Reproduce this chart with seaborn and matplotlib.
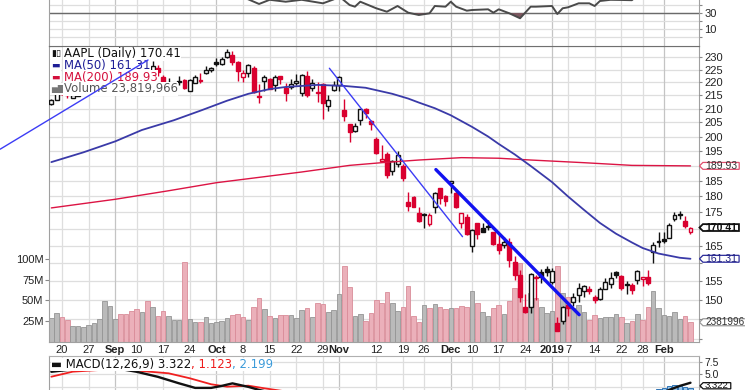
import numpy as np
import matplotlib
matplotlib.use("Agg")
import matplotlib.pyplot as plt
import matplotlib.transforms as mtransforms
from matplotlib.path import Path
from matplotlib.ticker import FixedLocator, FixedFormatter, NullLocator
from matplotlib.offsetbox import TextArea, HPacker, AnchoredOffsetbox
import seaborn as sns

# ---------------- data ----------------
dates = [
    "2018-08-16", "2018-08-17", "2018-08-20", "2018-08-21", "2018-08-22", "2018-08-23", "2018-08-24",
    "2018-08-27", "2018-08-28", "2018-08-29", "2018-08-30", "2018-08-31",
    "2018-09-04", "2018-09-05", "2018-09-06", "2018-09-07", "2018-09-10", "2018-09-11", "2018-09-12",
    "2018-09-13", "2018-09-14", "2018-09-17", "2018-09-18", "2018-09-19", "2018-09-20", "2018-09-21",
    "2018-09-24", "2018-09-25", "2018-09-26", "2018-09-27", "2018-09-28",
    "2018-10-01", "2018-10-02", "2018-10-03", "2018-10-04", "2018-10-05", "2018-10-08", "2018-10-09",
    "2018-10-10", "2018-10-11", "2018-10-12", "2018-10-15", "2018-10-16", "2018-10-17", "2018-10-18",
    "2018-10-19", "2018-10-22", "2018-10-23", "2018-10-24", "2018-10-25", "2018-10-26", "2018-10-29",
    "2018-10-30", "2018-10-31",
    "2018-11-01", "2018-11-02", "2018-11-05", "2018-11-06", "2018-11-07", "2018-11-08", "2018-11-09",
    "2018-11-12", "2018-11-13", "2018-11-14", "2018-11-15", "2018-11-16", "2018-11-19", "2018-11-20",
    "2018-11-21", "2018-11-23", "2018-11-26", "2018-11-27", "2018-11-28", "2018-11-29", "2018-11-30",
    "2018-12-03", "2018-12-04", "2018-12-06", "2018-12-07", "2018-12-10", "2018-12-11", "2018-12-12",
    "2018-12-13", "2018-12-14", "2018-12-17", "2018-12-18", "2018-12-19", "2018-12-20", "2018-12-21",
    "2018-12-24", "2018-12-26", "2018-12-27", "2018-12-28", "2018-12-31",
    "2019-01-02", "2019-01-03", "2019-01-04", "2019-01-07", "2019-01-08", "2019-01-09", "2019-01-10",
    "2019-01-11", "2019-01-14", "2019-01-15", "2019-01-16", "2019-01-17", "2019-01-18", "2019-01-22",
    "2019-01-23", "2019-01-24", "2019-01-25", "2019-01-28", "2019-01-29", "2019-01-30", "2019-01-31",
    "2019-02-01", "2019-02-04", "2019-02-05", "2019-02-06", "2019-02-07", "2019-02-08",
]

opens = [
    211.75, 213.44, 218.10, 216.80, 214.10, 214.65, 216.60, 217.15, 219.01, 220.15, 223.25, 226.51,
    228.41, 228.99, 226.23, 221.85, 220.95, 218.01, 224.94, 223.52, 225.75, 222.15, 217.79, 218.50,
    220.24, 220.78, 216.82, 219.75, 221.00, 223.82, 224.79,
    227.95, 227.25, 230.05, 230.78, 227.96, 222.21, 223.64, 225.46, 214.52, 220.42, 221.16, 218.93,
    222.30, 217.86, 218.06, 219.79, 215.83, 222.60, 217.71, 215.90, 219.19, 211.15, 216.88,
    219.05, 209.55, 204.30, 201.92, 205.97, 209.98, 205.55, 199.00, 191.63, 193.90, 188.39, 190.50,
    190.00, 178.37, 179.73, 174.94, 174.24, 171.51, 176.73, 182.66, 180.29,
    184.46, 180.95, 171.76, 173.49, 165.00, 171.66, 170.40, 170.49, 169.00, 165.45, 165.38, 166.00,
    160.40, 156.86, 148.15, 148.30, 155.84, 157.50, 158.53,
    154.89, 143.98, 144.53, 148.70, 149.56, 151.29, 152.50, 152.88, 150.85, 150.27, 153.08, 154.20,
    157.50, 156.41, 154.15, 154.11, 155.48, 155.79, 156.25, 163.25, 166.11,
    166.96, 167.41, 172.86, 174.65, 172.40, 168.99,
]
highs = [
    213.81, 217.95, 219.18, 217.19, 216.36, 217.05, 216.90, 218.74, 220.54, 223.49, 228.26, 228.87,
    229.18, 229.67, 227.35, 225.37, 221.85, 224.30, 225.00, 228.35, 226.84, 222.95, 221.85, 219.62,
    222.28, 221.36, 221.26, 222.82, 223.75, 226.44, 225.84,
    229.42, 230.00, 233.47, 232.35, 228.41, 224.80, 227.27, 226.35, 219.50, 222.88, 221.83, 222.99,
    222.64, 219.74, 221.26, 223.36, 223.25, 224.23, 221.38, 220.19, 219.69, 215.18, 220.45,
    222.36, 213.65, 204.39, 204.72, 210.06, 210.12, 206.01, 199.85, 197.18, 194.48, 191.97, 194.97,
    190.70, 181.47, 180.27, 176.60, 174.95, 174.77, 181.29, 182.80, 180.33,
    184.94, 182.39, 174.78, 174.49, 170.09, 171.79, 171.92, 172.57, 169.08, 168.35, 167.53, 167.45,
    162.11, 158.16, 151.55, 157.23, 156.77, 158.52, 159.36,
    158.85, 145.72, 148.55, 148.83, 151.82, 154.53, 153.97, 153.70, 151.27, 153.39, 155.88, 157.66,
    157.88, 156.73, 155.14, 154.48, 158.13, 156.33, 158.13, 166.15, 169.00,
    168.98, 171.66, 175.08, 175.57, 173.94, 170.66,
]
lows = [
    211.47, 213.16, 215.11, 214.03, 213.84, 214.60, 215.11, 216.33, 218.92, 219.41, 222.40, 226.00,
    226.63, 225.10, 221.30, 220.71, 216.47, 216.56, 219.84, 222.57, 222.52, 217.27, 217.12, 215.30,
    219.15, 217.29, 216.63, 219.70, 219.76, 223.30, 224.02,
    226.35, 226.63, 229.78, 226.73, 220.58, 220.20, 222.25, 216.05, 212.32, 216.84, 217.27, 216.76,
    219.34, 213.00, 217.43, 218.94, 214.70, 214.54, 216.75, 212.67, 206.09, 209.27, 216.62,
    216.81, 205.43, 198.17, 201.69, 204.13, 206.75, 202.25, 193.79, 191.45, 185.93, 186.90, 189.46,
    184.99, 175.51, 176.55, 172.10, 170.26, 170.88, 174.93, 177.70, 177.03,
    181.21, 176.27, 170.42, 168.30, 163.33, 167.00, 169.02, 169.55, 165.28, 162.73, 164.39, 159.09,
    155.30, 149.63, 146.59, 146.72, 150.07, 154.55, 156.48,
    154.23, 142.00, 143.80, 145.90, 148.52, 149.63, 150.86, 151.51, 149.22, 150.05, 153.00, 153.26,
    155.98, 152.62, 151.70, 151.74, 154.32, 153.66, 154.11, 160.23, 164.56,
    165.93, 167.28, 172.35, 172.85, 170.34, 168.42,
]
closes = [
    213.32, 217.58, 215.46, 215.04, 215.05, 215.49, 216.16, 217.94, 219.70, 222.98, 225.03, 227.63,
    228.36, 226.87, 223.10, 221.30, 218.33, 223.85, 221.07, 226.41, 223.84, 217.88, 218.24, 218.37,
    220.03, 217.66, 220.79, 222.19, 220.42, 224.95, 225.74,
    227.26, 229.28, 232.07, 227.99, 224.29, 223.77, 226.87, 216.36, 214.45, 222.11, 217.36, 222.15,
    221.19, 216.02, 219.31, 220.65, 222.73, 215.09, 219.80, 216.30, 212.24, 213.30, 218.86,
    222.22, 207.48, 201.59, 203.77, 209.95, 208.49, 204.47, 194.17, 192.23, 186.80, 191.41, 193.53,
    185.86, 176.98, 176.78, 172.29, 174.62, 174.24, 180.94, 179.55, 178.58,
    184.82, 176.69, 174.72, 168.49, 169.60, 168.63, 169.10, 170.95, 165.48, 163.94, 166.07, 160.89,
    156.83, 150.73, 146.83, 157.17, 156.15, 156.23, 157.74,
    157.92, 142.19, 148.26, 147.93, 150.75, 153.31, 153.80, 152.29, 150.00, 153.07, 154.94, 155.86,
    156.82, 153.30, 153.92, 152.70, 157.76, 156.30, 154.68, 165.25, 166.44,
    166.52, 171.25, 174.18, 174.24, 170.94, 170.41,
]
prior_close = 210.24
volumes_m = [
    28.5, 35.4, 30.3, 26.2, 19.0, 18.9, 18.5, 20.5, 22.8, 27.3, 48.8, 43.3,
    27.4, 33.3, 34.3, 37.6, 39.5, 35.7, 49.3, 41.7, 31.9, 37.2, 31.6, 27.1, 26.6, 96.2, 27.7, 24.6,
    24.0, 30.2, 22.9,
    23.6, 24.8, 28.7, 32.0, 33.6, 29.7, 26.9, 42.0, 53.1, 40.3, 30.8, 28.8, 32.6, 32.6, 33.1, 28.8,
    38.7, 40.9, 29.9, 47.3, 45.9, 36.7, 38.4,
    58.3, 91.3, 66.2, 31.9, 33.4, 25.4, 34.4, 51.1, 46.9, 60.8, 46.5, 36.9, 41.9, 67.8, 31.1, 23.6,
    45.0, 41.4, 46.1, 41.8, 39.5,
    40.8, 41.3, 43.1, 42.3, 62.0, 47.3, 35.6, 31.9, 40.7, 44.3, 33.8, 49.0, 64.8, 95.7, 37.2, 58.6,
    53.1, 42.3, 35.0,
    37.0, 91.3, 58.6, 54.8, 41.0, 45.1, 35.8, 27.0, 32.4, 28.7, 30.6, 29.8, 33.8, 30.4, 23.1, 25.4,
    33.5, 26.2, 41.6, 61.1, 40.7,
    32.7, 31.5, 36.1, 28.2, 31.7, 23.8,
]

# moving averages (session number -> value)
ma50_session = [0, 6, 12, 17, 23, 28, 33, 37, 41, 44, 50, 55, 59, 64, 67, 69, 72, 75, 79, 82, 84, 87,
                90, 94, 97, 100, 103, 106, 109, 111, 114, 118, 120]
ma50_values = [191.2, 194.5, 198.3, 202.3, 205.8, 209.3, 213.0, 215.6, 217.4, 218.2, 219.0, 218.6,
               217.9, 215.6, 213.8, 212.3, 210.2, 207.6, 203.4, 200.0, 197.4, 193.8, 189.9, 184.6,
               180.0, 175.8, 171.8, 168.6, 166.0, 164.4, 162.8, 161.6, 161.31]
ma200_session = [0, 12, 22, 31, 37, 47, 56, 62, 69, 77, 84, 90, 100, 109, 120]
ma200_values = [176.4, 179.1, 181.8, 184.4, 185.7, 187.9, 190.1, 191.0, 191.9, 192.7, 192.5, 191.9,
                191.0, 190.1, 189.93]

# RSI (top panel, mostly off the top of the crop)
rsi_session = [35, 37, 39, 41, 44, 47, 51, 53, 54, 56, 57, 58, 61, 63, 65, 67, 69, 71, 72, 74, 75, 76,
               78, 79, 82, 83, 84, 86, 88, 90, 91, 94, 95, 96, 97, 99, 101, 102, 103, 105, 107, 109, 110, 113]
rsi_values = [53, 47, 41.3, 46.5, 44.1, 46.5, 42.1, 47, 51, 40, 37.9, 44.1, 35.9, 31.6, 38.75, 30.4,
              27.5, 29.6, 38.75, 37.9, 44.1, 37.9, 32.9, 33.75, 34.6, 30.4, 34.6, 29.6, 23.4, 37.9,
              37.9, 38.75, 28.75, 35.9, 37.1, 42.1, 42.1, 38.75, 45, 46.5, 46.3, 46, 52, 62]

# MACD(12,26,9)
macd_session = [0, 3, 7, 11, 16, 20, 24, 27, 30, 32, 34, 37, 39, 42, 47, 52, 57, 62, 67, 72, 77, 82,
                87, 92, 97, 102, 107, 112, 114, 116, 117, 118, 119, 120]
macd_values = [5.5, 5.85, 6.1, 6.4, 5.5, 4.5, 3.2, 2.3, 2.3, 2.7, 3.2, 2.5, 1.9, 1.2, 0.6, -0.3, -2.5,
               -5.5, -8.5, -9.5, -9.5, -9.3, -10.0, -9.2, -8.5, -6.0, -3.5, -1.0, 0.9, 1.9, 2.3, 2.7,
               3.0, 3.322]
signal_session = [0, 4, 9, 13, 22, 26, 30, 33, 37, 40, 44, 50, 55, 60, 65, 70, 75, 80, 85, 90, 95,
                  100, 105, 110, 115, 120]
signal_values = [4.52, 5.52, 5.85, 6.0, 5.2, 4.21, 3.02, 2.54, 2.74, 2.22, 1.6, 0.8, 0.0, -2.0, -4.5,
                 -6.5, -8.0, -8.7, -9.0, -9.3, -9.0, -8.0, -6.0, -3.5, -1.0, 1.123]
hist_session = [114, 115, 116, 117, 118, 119, 120]
hist_values = [2.0, 2.3, 2.6, 2.8, 2.7, 2.5, 2.199]

# hand-drawn trend lines (session, price)
trend1_session, trend1_price = [-9.6, 18.15], [195.6, 228.8]
trend2_session, trend2_price = [52.2, 77.2], [225.5, 167.7]
trend3_session, trend3_price = [72.2, 99.1], [188.7, 146.2]

tick_dates = ["2018-08-20", "2018-08-27", "2018-09-04", "2018-09-10", "2018-09-17", "2018-09-24",
              "2018-10-01", "2018-10-08", "2018-10-15", "2018-10-22", "2018-10-29", "2018-11-01",
              "2018-11-12", "2018-11-19", "2018-11-26", "2018-12-03", "2018-12-10", "2018-12-17",
              "2018-12-24", "2019-01-02", "2019-01-07", "2019-01-14", "2019-01-22", "2019-01-28",
              "2019-02-01"]
tick_labels = ["20", "27", "Sep", "10", "17", "24", "Oct", "8", "15", "22", "29", "Nov", "12", "19",
               "26", "Dec", "10", "17", "24", "2019", "7", "14", "22", "28", "Feb"]
month_labels = {"Sep", "Oct", "Nov", "Dec", "2019", "Feb"}

price_ticks = [140, 145, 150, 155, 160, 165, 170, 175, 180, 185, 190, 195, 200, 205, 210, 215, 220, 225, 230]
price_hidden = {140, 145, 160, 170, 190}

# ---------------- figure ----------------
sns.set_theme(style="white")
plt.rcParams["font.family"] = ["DejaVu Sans"]
AXFONT = ["Liberation Sans", "DejaVu Sans"]
LEGFS = 8.4

W, H = 745, 390
fig = plt.figure(figsize=(W / 100, H / 100), dpi=100)
fig.patch.set_facecolor("white")


def rect(x0, y0, x1, y1):
    return [x0 / W, 1 - y1 / H, (x1 - x0) / W, (y1 - y0) / H]


ax_vol = fig.add_axes(rect(49, 46, 699, 342))
ax_px = ax_vol.twinx()
ax_rsi = fig.add_axes(rect(49, -35, 699, 46))
ax_macd = fig.add_axes(rect(49, 356, 699, 420))

sess = {d: i for i, d in enumerate(dates)}
x = np.arange(len(dates))
o, hi, lo, c = (np.array(a, dtype=float) for a in (opens, highs, lows, closes))
prev = np.concatenate([[prior_close], c[:-1]])
down = c < prev
hollow = c > o
XLIM = (-0.44, 121.6)
tick_x = [sess[d] for d in tick_dates]

GRID = "#dedede"
GRID_M = "#c4c4c4"


def vgrid(ax):
    ax.set_xlim(*XLIM)
    ax.set_xticks(tick_x)
    ax.set_xticklabels(tick_labels)
    ax.grid(True, axis="x", color=GRID, lw=0.9)
    for t, lab in zip(ax.xaxis.get_major_ticks(), tick_labels):
        if lab in month_labels:
            t.gridline.set_color(GRID_M)
    ax.tick_params(axis="x", length=0)


def style_ylabels(ax):
    for t in ax.get_yticklabels():
        t.set_family(AXFONT)


for ax in (ax_vol, ax_rsi, ax_macd):
    for s in ax.spines.values():
        s.set_color("#a0a0a0")
        s.set_linewidth(0.8)
for s in ax_px.spines.values():
    s.set_visible(False)

# ---- volume (bottom layer) ----
vgrid(ax_vol)
vol = np.array(volumes_m) * 1e6
vfc = np.where(down, "#ebb0ba", "#bababa")
vec = np.where(down, "#d98c99", "#959595")
ax_vol.bar(x, vol, width=0.86, color=vfc, edgecolor=vec, linewidth=0.6, zorder=2)
ax_vol.set_ylim(0, 356.6e6)
ax_vol.set_yticks([25e6, 50e6, 75e6, 100e6])
ax_vol.set_yticklabels(["25M", "50M", "75M", "100M"])
ax_vol.tick_params(axis="y", left=True, length=3, width=0.8, color="#888888", pad=1,
                   labelsize=8, labelcolor="#222222")
ax_vol.tick_params(axis="x", labelsize=8, labelcolor="#222222", pad=2)
for t, lab in zip(ax_vol.get_xticklabels(), tick_labels):
    t.set_family(AXFONT)
    if lab in month_labels:
        t.set_fontweight("bold")
style_ylabels(ax_vol)
ax_vol.spines["top"].set_color("#707070")

# horizontal price grid drawn beneath the volume bars, using the price axis scale
blend = mtransforms.blended_transform_factory(ax_vol.transAxes, ax_px.transData)
for p in price_ticks:
    ax_vol.plot([0, 1], [p, p], transform=blend, color=GRID, lw=0.9, zorder=0.5)

# ---- price panel ----
ax_px.set_yscale("log")
ax_px.set_ylim(139.35, 234.5)
ax_px.set_xlim(*XLIM)
ax_px.yaxis.set_major_locator(FixedLocator(price_ticks))
ax_px.yaxis.set_major_formatter(FixedFormatter(["" if t in price_hidden else str(t) for t in price_ticks]))
ax_px.yaxis.set_minor_locator(NullLocator())
ax_px.tick_params(axis="y", right=True, length=2, width=0.8, color="#888888", pad=2,
                  labelsize=8, labelcolor="#222222")
style_ylabels(ax_px)
ax_px.grid(False)

col = np.where(down, "#d9002f", "#111111")
ax_px.vlines(x, lo, hi, colors=col, lw=1.0, zorder=3)
body_lo = np.minimum(o, c)
body_h = np.maximum(np.abs(c - o), 0.3)
face = np.where(hollow, "white", col)
ax_px.bar(x, body_h, bottom=body_lo, width=0.74, color=face, edgecolor=col, linewidth=1.0, zorder=4)

sns.lineplot(x=ma200_session, y=ma200_values, ax=ax_px, color="#dc1444", lw=1.0,
             estimator=None, sort=False, zorder=5)
sns.lineplot(x=ma50_session, y=ma50_values, ax=ax_px, color="#3a3aa8", lw=1.3,
             estimator=None, sort=False, zorder=5)
ax_px.set_xlabel("")
ax_px.set_ylabel("")
ax_vol.set_ylabel("")

ax_px.plot(trend1_session, trend1_price, color="#3c3cf5", lw=1.0, zorder=8, clip_on=False)
ax_px.plot(trend2_session, trend2_price, color="#3c3cf5", lw=1.0, zorder=8)
ax_px.plot(trend3_session, trend3_price, color="#1212f0", lw=2.4, zorder=8, solid_capstyle="round")


def fx(px):
    return (px - 49) / 650


def fy(py):
    return (342 - py) / 296


legend_rows = [
    ("\u25AE\u25AF", "AAPL (Daily) 170.41", "#111111", "#111111", 53.5),
    ("\u25AC", "MA(50) 161.31", "#1e1e96", "#1e1e96", 65.5),
    ("\u25AC", "MA(200) 189.93", "#d4103c", "#d4103c", 77.3),
    ("\u2585\u2587", "Volume 23,819,966", "#555555", "#777777", 88.8),
]
for icon, txt, color, icolor, ypix in legend_rows:
    ax_px.text(fx(51), fy(ypix), icon, transform=ax_px.transAxes, color=icolor,
               fontsize=6.5, va="center", ha="left", zorder=7,
               bbox=dict(boxstyle="square,pad=0.15", fc="white", ec="none"))
    ax_px.text(fx(63.5), fy(ypix), txt, transform=ax_px.transAxes, color=color,
               fontsize=LEGFS, va="center", ha="left", zorder=7,
               bbox=dict(boxstyle="square,pad=0.05", fc="white", ec="none"))


# ---- value tags ----
def tag_box(x0, y0, width, height, mutation_size):
    px_ = 0.2 * mutation_size
    py_ = -0.15 * mutation_size
    x0 = x0 - px_
    x1 = x0 + width + 2 * px_
    y0 = y0 - py_
    y1 = y0 + height + 2 * py_
    tip = 0.5 * (y1 - y0)
    ym = 0.5 * (y0 + y1)
    return Path([(x0, y0), (x1, y0), (x1, y1), (x0, y1), (x0 - tip, ym), (x0, y0)], closed=True)


def tag(ax, value, text, ec, tc, bold=False, lw=0.9, fs=7.5, dy=0):
    ax.annotate(text, xy=(1.0, value), xycoords=("axes fraction", "data"),
                xytext=(6, dy), textcoords="offset pixels", va="center", ha="left",
                fontsize=fs, family=AXFONT, color=tc, fontweight="bold" if bold else "normal",
                bbox=dict(boxstyle=tag_box, fc="white", ec=ec, lw=lw),
                annotation_clip=False, zorder=9)


tag(ax_px, 189.93, "189.93", "#e0506e", "#333333")
tag(ax_px, 170.41, "170.41", "#111111", "#111111", bold=True, lw=1.3)
tag(ax_px, 161.31, "161.31", "#2a2a9a", "#1e1e80")
tag(ax_vol, volumes_m[-1] * 1e6, "2381996", "#9a9a9a", "#333333", fs=7.2)

# ---- RSI panel ----
vgrid(ax_rsi)
ax_rsi.tick_params(axis="x", labelbottom=False)
ax_rsi.set_ylim(-11.25, 90)
rv = np.array(rsi_values, dtype=float)
ax_rsi.fill_between(rsi_session, rv, 30, where=rv < 30, interpolate=True, color="#7d5860", lw=0, zorder=2)
sns.lineplot(x=rsi_session, y=rsi_values, ax=ax_rsi, color="#4a4a4a", lw=1.4,
             estimator=None, sort=False, zorder=3)
rsi_ticks = [0, 10, 20, 30, 40, 50, 60, 70, 80]
ax_rsi.yaxis.tick_right()
ax_rsi.yaxis.set_major_locator(FixedLocator(rsi_ticks))
ax_rsi.yaxis.set_major_formatter(FixedFormatter(["", "10", "", "30", "", "", "", "", ""]))
ax_rsi.grid(True, axis="y", color=GRID, lw=0.9)
ax_rsi.axhline(30, color="#6a6a6a", lw=1.0, zorder=1.5)
ax_rsi.tick_params(axis="y", right=True, length=2, width=0.8, color="#888888", pad=2,
                   labelsize=8, labelcolor="#222222")
style_ylabels(ax_rsi)
ax_rsi.spines["bottom"].set_color("#707070")
ax_rsi.set_xlabel("")
ax_rsi.set_ylabel("")

# ---- MACD panel ----
vgrid(ax_macd)
ax_macd.tick_params(axis="x", labelbottom=False)
ax_macd.set_ylim(-4.07, 8.63)
ax_macd.bar(hist_session, hist_values, width=0.8, color="#94c4ec", edgecolor="#2f74b5", lw=0.7, zorder=2)
sns.lineplot(x=signal_session, y=signal_values, ax=ax_macd, color="#f02020", lw=1.3,
             estimator=None, sort=False, zorder=3)
sns.lineplot(x=macd_session, y=macd_values, ax=ax_macd, color="#111111", lw=1.7,
             estimator=None, sort=False, zorder=4)
ax_macd.yaxis.tick_right()
ax_macd.yaxis.set_major_locator(FixedLocator([2.5, 5.0, 7.5]))
ax_macd.yaxis.set_major_formatter(FixedFormatter(["", "5.0", "7.5"]))
ax_macd.grid(True, axis="y", color=GRID, lw=0.9)
ax_macd.tick_params(axis="y", right=True, length=2, width=0.8, color="#888888", pad=2,
                    labelsize=7.5, labelcolor="#222222")
style_ylabels(ax_macd)
ax_macd.spines["top"].set_color("#b0b0b0")
ax_macd.set_xlabel("")
ax_macd.set_ylabel("")

parts = [TextArea("\u25AC MACD(12,26,9) 3.322", textprops=dict(color="#111111", fontsize=LEGFS)),
         TextArea(", 1.123", textprops=dict(color="#ee1c1c", fontsize=LEGFS)),
         TextArea(", 2.199", textprops=dict(color="#3a9ad9", fontsize=LEGFS))]
pack = HPacker(children=parts, align="baseline", pad=0, sep=0)
lg = AnchoredOffsetbox(loc="upper left", child=pack, pad=0.0, borderpad=0.1, frameon=True,
                       bbox_to_anchor=(0.0, 1.0), bbox_transform=ax_macd.transAxes)
lg.patch.set_facecolor("white")
lg.patch.set_edgecolor("none")
lg.set_zorder(10)
ax_macd.add_artist(lg)

tag(ax_macd, 3.322, "3.322", "#111111", "#111111", fs=6.8, dy=-3)

fig.savefig("out.png", dpi=100, facecolor="white")
